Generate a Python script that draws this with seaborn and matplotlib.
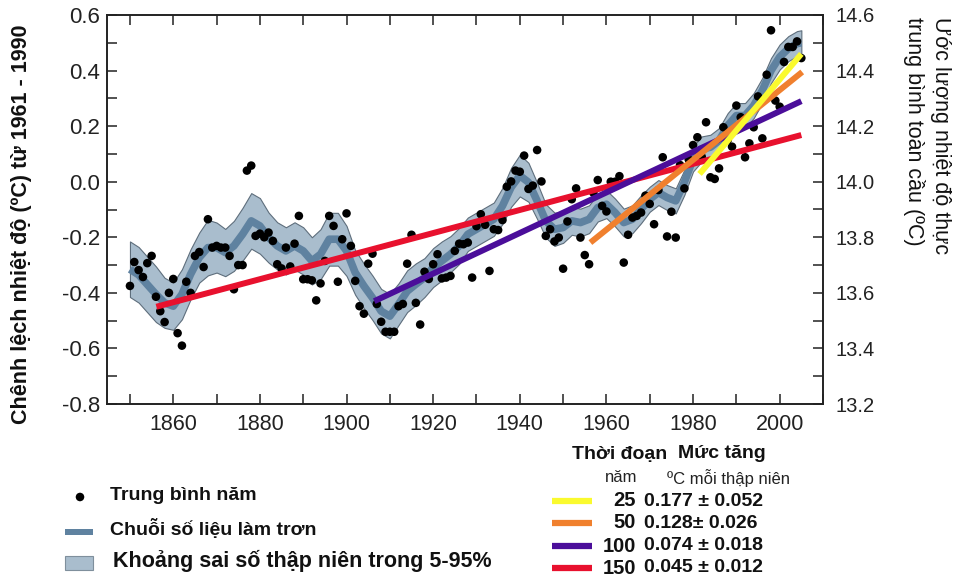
import numpy as np
import pandas as pd
import matplotlib
matplotlib.use("Agg")
import matplotlib.pyplot as plt
from matplotlib.ticker import MultipleLocator
from matplotlib.patches import Rectangle
import seaborn as sns

# ---------------- data ----------------
years = list(range(1850, 2006))
annual = [
    -0.375, -0.289, -0.318, -0.343, -0.293, -0.267, -0.414, -0.466, -0.505, -0.40,
    -0.35, -0.545, -0.59, -0.36, -0.40, -0.267, -0.253, -0.307, -0.135, -0.237,
    -0.231, -0.237, -0.237, -0.267, -0.387, -0.30, -0.30, 0.04, 0.058, -0.195,
    -0.187, -0.20, -0.183, -0.213, -0.297, -0.312, -0.237, -0.305, -0.223, -0.123,
    -0.351, -0.351, -0.355, -0.427, -0.366, -0.285, -0.123, -0.159, -0.36, -0.207,
    -0.114, -0.231, -0.357, -0.448, -0.475, -0.295, -0.259, -0.44, -0.504, -0.54,
    -0.54, -0.54, -0.448, -0.44, -0.295, -0.191, -0.436, -0.514, -0.324, -0.35,
    -0.297, -0.261, -0.348, -0.345, -0.339, -0.249, -0.223, -0.225, -0.219, -0.345,
    -0.16, -0.117, -0.155, -0.321, -0.171, -0.174, -0.138, -0.018, 0.001, 0.04,
    0.036, 0.094, -0.026, -0.014, 0.114, 0.001, -0.195, -0.171, -0.215, -0.201,
    -0.313, -0.143, -0.063, -0.024, -0.201, -0.264, -0.297, -0.04, 0.006, -0.087,
    -0.107, 0.0, 0.0, 0.02, -0.291, -0.191, -0.129, -0.123, -0.111, -0.05,
    -0.08, -0.153, -0.03, 0.088, -0.197, -0.108, -0.201, 0.06, -0.024, 0.08,
    0.132, 0.16, 0.09, 0.214, 0.016, 0.01, 0.048, 0.196, 0.15, 0.126,
    0.274, 0.232, 0.088, 0.138, 0.196, 0.307, 0.156, 0.385, 0.545, 0.292,
    0.27, 0.431, 0.485, 0.485, 0.505, 0.445,
]

smooth_years = list(range(1850, 2005, 2)) + [2005]
smooth_mid = [
    -0.315, -0.335, -0.37, -0.405, -0.436, -0.448, -0.405, -0.333, -0.273, -0.237,
    -0.237, -0.255, -0.231, -0.189, -0.141, -0.159, -0.201, -0.231, -0.249, -0.231,
    -0.249, -0.285, -0.261, -0.207, -0.207, -0.249,
    -0.327, -0.375, -0.418, -0.466, -0.484, -0.441, -0.394, -0.369, -0.345, -0.309,
    -0.285, -0.261, -0.231, -0.189, -0.171, -0.153, -0.135, -0.087, -0.02, 0.022,
    -0.002, -0.069, -0.141, -0.171, -0.165,
    -0.141, -0.147, -0.135, -0.093, -0.081, -0.111, -0.147, -0.135, -0.099, -0.063,
    -0.039, -0.057, -0.069, -0.002, 0.082, 0.118, 0.124, 0.148, 0.202, 0.238,
    0.238, 0.274, 0.329, 0.40, 0.449, 0.479, 0.497,
    0.50,
]
band_halfwidth = [
    0.10, 0.10, 0.10, 0.10, 0.09, 0.085, 0.09, 0.09, 0.09, 0.10,
    0.09, 0.085, 0.09, 0.095, 0.10, 0.10, 0.09, 0.085, 0.085, 0.085,
    0.085, 0.085, 0.09, 0.095, 0.095, 0.09,
    0.08, 0.08, 0.08, 0.08, 0.08, 0.075, 0.075, 0.075, 0.07, 0.07,
    0.07, 0.065, 0.065, 0.06, 0.06, 0.06, 0.06, 0.065, 0.07, 0.075,
    0.07, 0.065, 0.06, 0.06, 0.055,
    0.05, 0.05, 0.05, 0.05, 0.05, 0.05, 0.05, 0.05, 0.05, 0.045,
    0.045, 0.045, 0.045, 0.045, 0.045, 0.045, 0.045, 0.045, 0.045, 0.045,
    0.045, 0.045, 0.045, 0.045, 0.045, 0.045, 0.045,
    0.045,
]

trend_periods = ["25", "50", "100", "150"]
trend_rates = ["0.177 \u00b1 0.052", "0.128\u00b1 0.026", "0.074 \u00b1 0.018", "0.045 \u00b1 0.012"]
trend_start_year = [1981.5, 1956.3, 1906.4, 1856.1]
trend_end_year = [2005.0, 2005.2, 2005.0, 2005.0]
trend_start_val = [0.028, -0.219, -0.43, -0.45]
trend_end_val = [0.46, 0.395, 0.29, 0.168]
trend_colors = ["#FAFA2E", "#F0802E", "#4B0E9A", "#E8112E"]

y_ticks_left = [-0.8, -0.6, -0.4, -0.2, 0.0, 0.2, 0.4, 0.6]
y_ticks_right = [13.2, 13.4, 13.6, 13.8, 14.0, 14.2, 14.4, 14.6]
x_ticks = [1860, 1880, 1900, 1920, 1940, 1960, 1980, 2000]

# ---------------- style ----------------
sns.set_theme(style="white")
plt.rcParams["font.family"] = ["Liberation Sans", "DejaVu Sans"]
plt.rcParams["axes.edgecolor"] = "#222222"
plt.rcParams["axes.linewidth"] = 1.2

SMOOTH_COL = "#5F82A0"
BAND_COL = "#A9BDCD"
BAND_EDGE = "#5E6E7C"
TXT = "#111111"

fig = plt.figure(figsize=(9.59, 5.78), dpi=100)
W, H = 959, 578
ax = fig.add_axes([107 / W, 1 - 404 / H, (823 - 107) / W, (404 - 15) / H])

df_pts = pd.DataFrame({"year": years, "anom": annual})
sm = pd.DataFrame({"year": smooth_years, "mid": smooth_mid, "hw": band_halfwidth})
sm["lo"] = sm["mid"] - sm["hw"]
sm["hi"] = sm["mid"] + sm["hw"]

ax.fill_between(sm["year"], sm["lo"], sm["hi"], facecolor=BAND_COL,
                edgecolor=BAND_EDGE, linewidth=0.8, zorder=1)
sns.lineplot(data=sm, x="year", y="mid", color=SMOOTH_COL, linewidth=5.5,
             ax=ax, zorder=2, solid_capstyle="butt")
sns.scatterplot(data=df_pts, x="year", y="anom", color="black", s=38,
                edgecolor="none", ax=ax, zorder=3)

for i in [3, 2, 1, 0]:
    tdf = pd.DataFrame({"year": [trend_start_year[i], trend_end_year[i]],
                        "v": [trend_start_val[i], trend_end_val[i]]})
    sns.lineplot(data=tdf, x="year", y="v", color=trend_colors[i], linewidth=4.3,
                 ax=ax, zorder=4 + (3 - i), solid_capstyle="butt")

ax.set_xlim(1844.7, 2010)
ax.set_ylim(-0.8, 0.6)
ax.set_xticks(x_ticks)
ax.set_yticks(y_ticks_left)
ax.set_yticklabels([f"{v:.1f}" for v in y_ticks_left])
ax.xaxis.set_minor_locator(MultipleLocator(10))
ax.yaxis.set_minor_locator(MultipleLocator(0.1))
ax.tick_params(axis="both", which="both", direction="in", length=7, width=1.1,
               color="#222222", top=True, right=False, left=True, bottom=True)
ax.tick_params(axis="y", labelsize=16, pad=5, labelcolor="#222222")
ax.tick_params(axis="x", labelsize=15.5, pad=7, labelcolor="#222222")
ax.set_xlabel("")
ax.set_ylabel("")
for s in ax.spines.values():
    s.set_color("#222222")
    s.set_linewidth(1.2)

ax2 = ax.twinx()
ax2.set_ylim(13.2, 14.6)
ax2.set_yticks(y_ticks_right)
ax2.set_yticklabels([f"{v:.1f}" for v in y_ticks_right])
ax2.yaxis.set_minor_locator(MultipleLocator(0.1))
ax2.tick_params(axis="y", which="both", direction="in", length=7, width=1.1,
                color="#222222", labelsize=14.5, pad=9, labelcolor="#222222")
for s in ax2.spines.values():
    s.set_color("#222222")
    s.set_linewidth(1.2)

# axis titles
fig.text(22 / W, 1 - 224 / H, "Ch\u00eanh l\u1ec7ch nhi\u1ec7t \u0111\u1ed9 (\u00baC) t\u1eeb 1961 - 1990",
         rotation=90, ha="center", va="center", fontsize=15.5, fontweight="bold", color=TXT)
fig.text(927 / W, 1 - 17 / H,
         "\u01af\u1edbc l\u01b0\u1ee3ng nhi\u1ec7t \u0111\u1ed9 th\u1ef1c\ntrung b\u00ecnh to\u00e0n c\u1ea7u (\u00baC)",
         rotation=-90, ha="center", va="top", multialignment="left",
         fontsize=15.5, color=TXT, linespacing=1.35)

# ---------------- legends (pixel coords overlay) ----------------
lg = fig.add_axes([0, 0, 1, 1], facecolor="none")
lg.set_xlim(0, W)
lg.set_ylim(H, 0)
lg.axis("off")

lg.scatter([80], [497], s=38, color="black", edgecolor="none")
lg.text(110, 495, "Trung b\u00ecnh n\u0103m", fontsize=14, fontweight="bold",
        va="center", ha="left", color=TXT)
lg.add_patch(Rectangle((65, 529), 28, 6, facecolor=SMOOTH_COL, edgecolor="none"))
lg.text(110, 529, "Chu\u1ed7i s\u1ed1 li\u1ec7u l\u00e0m tr\u01a1n", fontsize=14, fontweight="bold",
        va="center", ha="left", color=TXT)
lg.add_patch(Rectangle((65, 556), 28, 14, facecolor=BAND_COL, edgecolor="#7F8F9C", linewidth=0.8))
lg.text(113, 561, "Kho\u1ea3ng sai s\u1ed1 th\u1eadp ni\u00ean trong 5-95%", fontsize=15.5,
        fontweight="bold", va="center", ha="left", color=TXT)

lg.text(572, 454, "Th\u1eddi \u0111o\u1ea1n", fontsize=14, fontweight="bold", va="center",
        ha="left", color=TXT)
lg.text(678, 454, "M\u1ee9c t\u0103ng", fontsize=14, fontweight="bold", va="center",
        ha="left", color=TXT)
lg.text(605, 478, "n\u0103m", fontsize=12, va="center", ha="left", color="#222222")
lg.text(667, 478, "\u00baC m\u1ed7i th\u1eadp ni\u00ean", fontsize=12, va="center", ha="left",
        color="#222222")

row_y = [501, 523, 546, 568]
for i in range(4):
    lg.plot([552, 592], [row_y[i], row_y[i]], color=trend_colors[i], linewidth=4.5,
            solid_capstyle="butt")
    lg.text(636, row_y[i], trend_periods[i], fontsize=14.5, fontweight="bold",
            va="center", ha="right", color=TXT)
    lg.text(644, row_y[i], trend_rates[i], fontsize=14, fontweight="bold",
            va="center", ha="left", color=TXT)

fig.savefig("out.png", dpi=100)
